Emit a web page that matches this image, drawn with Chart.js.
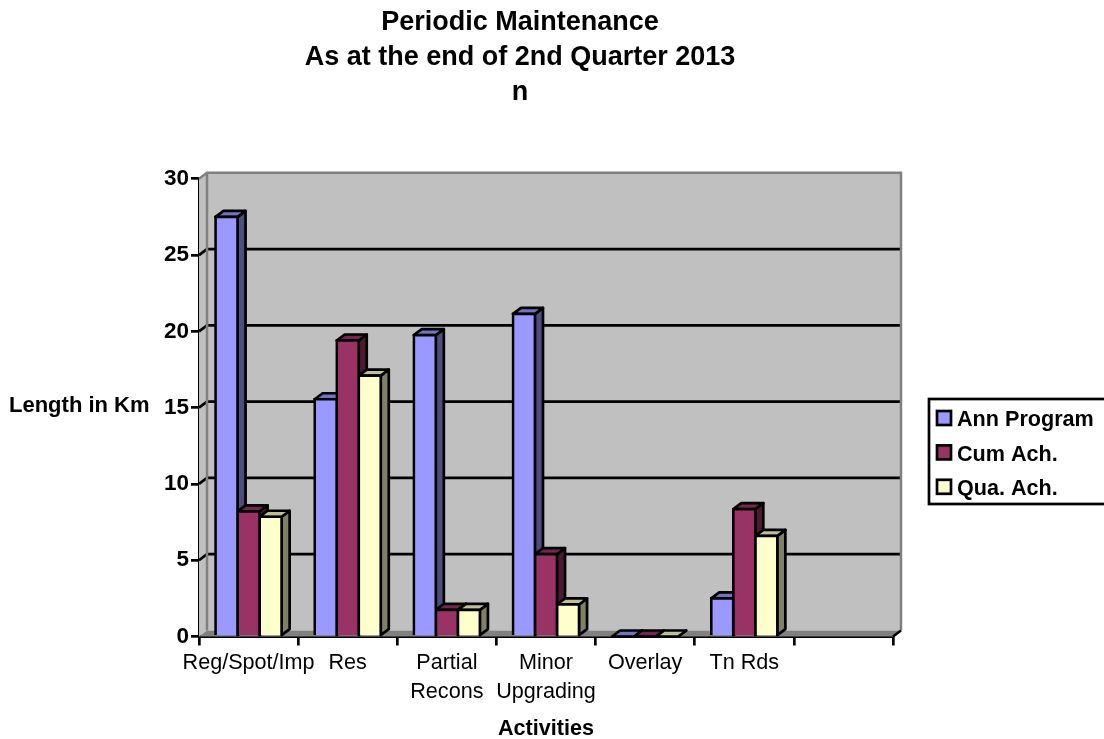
<!DOCTYPE html>
<html>
<head>
<meta charset="utf-8">
<title>Periodic Maintenance</title>
<script src="https://cdn.jsdelivr.net/npm/chart.js@4"></script>
<style>
html, body { margin: 0; padding: 0; background: #fff; }
canvas { display: block; }
</style>
</head>
<body>
<canvas id="grafico" width="1104" height="739"></canvas>
<script>
var categorias = ["Reg/Spot/Imp", "Res", ["Partial", "Recons"], ["Minor", "Upgrading"], "Overlay", "Tn Rds", ""];
var annProgram = [27.5, 15.55, 19.75, 21.15, 0, 2.5, null];
var cumAch = [8.2, 19.4, 1.75, 5.4, 0, 8.35, null];
var quaAch = [7.85, 17.1, 1.75, 2.1, 0, 6.6, null];
var titulo = ["Periodic Maintenance", "As at the end of 2nd Quarter 2013", "n"];
var tituloY = "Length in Km";
var tituloX = "Activities";

var fonte = "'Liberation Sans', Arial, sans-serif";
var DX = 8, DY = 6;
var LINHA = 2.7;

// cores: frente, lado, topo
var corAzul = ["#9999ff", "#4d4d80", "#7373bf"];
var corVinho = ["#993366", "#4d1a33", "#732650"];
var corCreme = ["#ffffcc", "#808066", "#bfbf99"];
var cores = [corAzul, corVinho, corCreme];

function poligono(c, pontos, fill, stroke, lw) {
    c.beginPath();
    c.moveTo(pontos[0][0], pontos[0][1]);
    for (var i = 1; i < pontos.length; i++) c.lineTo(pontos[i][0], pontos[i][1]);
    c.closePath();
    if (fill) { c.fillStyle = fill; c.fill(); }
    if (stroke) { c.strokeStyle = stroke; c.lineWidth = lw; c.lineJoin = "round"; c.stroke(); }
}

var parede3d = {
    id: "parede3d",
    afterLayout: function(chart) {
        // legenda e titulo ficam fora do lugar padrao
        var l = chart.legend;
        l.left = 928; l.right = 1104; l.top = 397; l.bottom = 560;
        l.width = 176; l.height = 163;
        chart.titleBlock.right = 1040;
    },
    beforeDatasetsDraw: function(chart) {
        var c = chart.ctx, a = chart.chartArea, y = chart.scales.y;
        c.save();
        // parede do fundo
        poligono(c, [[a.left + DX, a.top - DY], [a.right + DX, a.top - DY], [a.right + DX, a.bottom - DY], [a.left + DX, a.bottom - DY]], "#c0c0c0");
        // parede esquerda
        poligono(c, [[a.left, a.top], [a.left + DX, a.top - DY], [a.left + DX, a.bottom - DY], [a.left, a.bottom]], "#c0c0c0");
        // chao
        poligono(c, [[a.left, a.bottom], [a.left + DX, a.bottom - DY], [a.right + DX, a.bottom - DY], [a.right, a.bottom]], "#808080");
        // linhas de grade na parede do fundo
        y.ticks.forEach(function(t, i) {
            if (t.value === 0 || t.value === 30) return;
            var py = y.getPixelForTick(i) - DY;
            c.beginPath();
            c.moveTo(a.left, py + DY);
            c.lineTo(a.left + DX, py);
            c.lineTo(a.right + DX, py);
            c.strokeStyle = "#000";
            c.lineWidth = LINHA;
            c.stroke();
        });
        // bordas cinza das paredes
        c.strokeStyle = "#808080";
        c.lineWidth = 2.5;
        c.beginPath();
        c.moveTo(a.left, a.top);
        c.lineTo(a.left + DX, a.top - DY);
        c.lineTo(a.right + DX, a.top - DY);
        c.lineTo(a.right + DX, a.bottom - DY);
        c.moveTo(a.left + DX, a.top - DY);
        c.lineTo(a.left + DX, a.bottom - DY);
        c.stroke();
        // canto inferior direito
        c.strokeStyle = "#000";
        c.beginPath();
        c.moveTo(a.right, a.bottom);
        c.lineTo(a.right + DX, a.bottom - DY);
        c.stroke();
        // lados e topos das barras
        chart.data.datasets.forEach(function(ds, i) {
            chart.getDatasetMeta(i).data.forEach(function(b, j) {
                if (ds.data[j] === null) return;
                var x0 = b.x - b.width / 2, x1 = b.x + b.width / 2, yt = b.y, yb = b.base;
                poligono(c, [[x1, yt], [x1 + DX, yt - DY], [x1 + DX, yb - DY], [x1, yb]], cores[i][1], "#000", LINHA);
                poligono(c, [[x0, yt], [x0 + DX, yt - DY], [x1 + DX, yt - DY], [x1, yt]], cores[i][2], "#000", LINHA);
            });
        });
        c.restore();
    },
    afterDraw: function(chart) {
        var c = chart.ctx;
        c.save();
        // moldura da legenda
        c.strokeStyle = "#000";
        c.lineWidth = LINHA;
        c.strokeRect(929, 399, 180, 105);
        // quadradinhos da legenda
        cores.forEach(function(cor, i) {
            c.fillStyle = cor[0];
            c.fillRect(937, 411 + 34.4 * i, 14, 14);
            c.strokeRect(937, 411 + 34.4 * i, 14, 14);
        });
        // titulo do eixo y, na horizontal
        c.fillStyle = "#000";
        c.font = "bold 22px " + fonte;
        c.textAlign = "left";
        c.textBaseline = "middle";
        c.fillText(tituloY, 9, 406);
        c.restore();
    }
};

var chart = new Chart(document.getElementById("grafico"), {
    type: "bar",
    plugins: [parede3d],
    data: {
        labels: categorias,
        datasets: [
            { label: "Ann Program", data: annProgram, backgroundColor: corAzul[0], borderColor: "#000", borderWidth: LINHA, inflateAmount: LINHA / 2 },
            { label: "Cum Ach.", data: cumAch, backgroundColor: corVinho[0], borderColor: "#000", borderWidth: LINHA, inflateAmount: LINHA / 2 },
            { label: "Qua. Ach.", data: quaAch, backgroundColor: corCreme[0], borderColor: "#000", borderWidth: LINHA, inflateAmount: LINHA / 2 }
        ]
    },
    options: {
        responsive: false,
        animation: false,
        devicePixelRatio: 1,
        categoryPercentage: 0.667,
        barPercentage: 1,
        layout: { padding: { left: 0, right: 211, top: 0, bottom: 0 } },
        plugins: {
            tooltip: { enabled: false },
            title: {
                display: true,
                text: titulo,
                color: "#000",
                font: { family: fonte, size: 27, weight: "bold", lineHeight: 1.3 },
                padding: { top: 4.5, bottom: 69 }
            },
            legend: {
                position: "chartArea",
                align: "start",
                labels: {
                    color: "#000",
                    font: { family: fonte, size: 21.6, weight: "bold" },
                    boxWidth: 5.6,
                    boxHeight: 14,
                    padding: 12.6,
                    generateLabels: function(chart) {
                        return chart.data.datasets.map(function(ds, i) {
                            return { text: ds.label, fontColor: "#000", fillStyle: "rgba(0,0,0,0)", strokeStyle: "rgba(0,0,0,0)", lineWidth: 0, datasetIndex: i };
                        });
                    }
                }
            }
        },
        scales: {
            x: {
                afterFit: function(s) { s.height = 102.5; },
                border: { color: "#000", width: 3 },
                grid: { drawOnChartArea: false, drawTicks: true, color: "#000", lineWidth: LINHA, tickLength: 9 },
                ticks: { autoSkip: false, maxRotation: 0, color: "#000", padding: 4, font: { family: fonte, size: 21.6, lineHeight: 1.3 } },
                title: { display: true, text: tituloX, color: "#000", font: { family: fonte, size: 21.6, weight: "bold" }, padding: { top: 0, bottom: -3 } }
            },
            y: {
                min: 0,
                max: 30,
                afterFit: function(s) { s.width = 199; },
                border: { color: "#000", width: 3 },
                grid: { drawOnChartArea: false, drawTicks: true, color: "#000", lineWidth: LINHA, tickLength: 8 },
                ticks: { stepSize: 5, color: "#000", padding: 2, font: { family: fonte, size: 22.5, weight: "bold" } }
            }
        }
    }
});
</script>
</body>
</html>
